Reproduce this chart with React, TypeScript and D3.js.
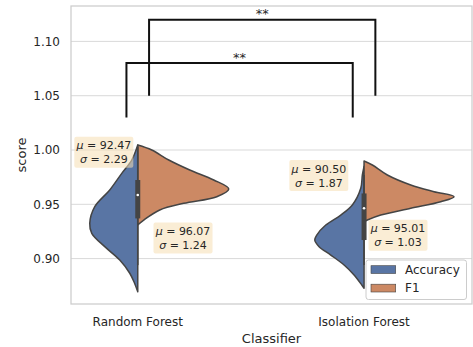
import React from 'react';
import * as d3 from 'd3';

// categories and hue levels
const classifiers = ['Random Forest', 'Isolation Forest'];
const metrics = ['Accuracy', 'F1'];
const yTicks = [0.9, 0.95, 1.0, 1.05, 1.1];

// violin outlines: score levels and half-width (relative density)
const rfAccScore = [1.0046, 0.9908, 0.9785, 0.9632, 0.9478, 0.9325, 0.9233, 0.911, 0.8987, 0.8865, 0.878, 0.8695];
const rfAccDens = [0, 0.06, 0.16, 0.28, 0.43, 0.48, 0.46, 0.33, 0.18, 0.08, 0.035, 0];
const rfF1Score = [1.0046, 1.0, 0.9908, 0.9816, 0.9724, 0.9641, 0.957, 0.9509, 0.9448, 0.9355, 0.931];
const rfF1Dens = [0, 0.14, 0.31, 0.52, 0.76, 0.91, 0.79, 0.46, 0.22, 0.06, 0];
const ifAccScore = [0.985, 0.977, 0.9647, 0.9494, 0.9401, 0.9309, 0.9217, 0.9171, 0.911, 0.9033, 0.8941, 0.8849, 0.8757, 0.8727];
const ifAccDens = [0, 0.017, 0.033, 0.117, 0.233, 0.383, 0.473, 0.493, 0.45, 0.333, 0.2, 0.1, 0.023, 0];
const ifF1Score = [0.9899, 0.9862, 0.977, 0.9678, 0.9616, 0.957, 0.9524, 0.9463, 0.9401, 0.9355, 0.934];
const ifF1Dens = [0, 0.083, 0.233, 0.467, 0.7, 0.9, 0.767, 0.467, 0.167, 0.033, 0];

// inner box: whisker low, q1, median, q3, whisker high
const boxLow = [0.894, 0.894];
const boxQ1 = [0.937, 0.9171];
const boxMed = [0.9586, 0.9463];
const boxQ3 = [0.9724, 0.96];
const boxHigh = [1.003, 0.977];

// mean / std annotations (classifier, metric)
const statMean = [92.47, 96.07, 90.5, 95.01];
const statStd = [2.29, 1.24, 1.87, 1.03];

// significance brackets
const bracketLow = [1.03, 1.05];
const bracketHigh = [1.08, 1.12];
const bracketText = ['**', '**'];

const W = 473;
const H = 347;
const colors = ['#5975a4', '#cc8964'];
const edge = '#444444';
const txt = '#262626';
const font = 'DejaVu Sans, sans-serif';

const App = () => {
  const x = d3.scaleLinear().domain([-0.295, 1.477]).range([71, 472]);
  const y = d3.scaleLinear().domain([0.8582, 1.1326]).range([304, 6]);
  const dens = d3.scaleLinear().domain([0, 1]).range([0, 100]);

  const violins = [
    { c: 0, side: -1, s: rfAccScore, d: rfAccDens },
    { c: 0, side: 1, s: rfF1Score, d: rfF1Dens },
    { c: 1, side: -1, s: ifAccScore, d: ifAccDens },
    { c: 1, side: 1, s: ifF1Score, d: ifF1Dens },
  ];

  // annotation placement (category offset, score of box centre)
  const annPos = [
    [-0.15, 0.998],
    [0.2, 0.919],
    [0.8, 0.9765],
    [1.15, 0.9215],
  ];

  return (
    <svg width={W} height={H} style={{ position: 'absolute', left: 0, top: 0, background: '#fff' }} fontFamily={font}>
      {/* grid */}
      {yTicks.map((t) => (
        <line key={t} x1={71} x2={472} y1={y(t)} y2={y(t)} stroke="#d9d9d9" strokeWidth={1} />
      ))}

      {/* violins */}
      {violins.map((v, i) => {
        const cx = x(v.c);
        const pts = v.s.map((s, k) => [s, v.d[k]] as [number, number]);
        const area = d3
          .area<[number, number]>()
          .y((p) => y(p[0]))
          .x0(cx)
          .x1((p) => cx + v.side * dens(p[1]))
          .curve(d3.curveCatmullRom);
        return (
          <path key={i} d={area(pts) || ''} fill={colors[v.side < 0 ? 0 : 1]} stroke={edge} strokeWidth={1.5} strokeLinejoin="round" />
        );
      })}

      {/* inner boxes */}
      {classifiers.map((c, i) => (
        <g key={c}>
          <line x1={x(i)} x2={x(i)} y1={y(boxLow[i])} y2={y(boxHigh[i])} stroke={edge} strokeWidth={1.6} />
          <line x1={x(i)} x2={x(i)} y1={y(boxQ1[i])} y2={y(boxQ3[i])} stroke={edge} strokeWidth={5} />
          <circle cx={x(i)} cy={y(boxMed[i])} r={1.3} fill="#fff" />
        </g>
      ))}

      {/* mean / std boxes */}
      {statMean.map((m, i) => {
        const cx = x(annPos[i][0]);
        const cy = y(annPos[i][1]);
        return (
          <g key={i}>
            <rect x={cx - 29.5} y={cy - 15.5} width={59} height={31} rx={2} fill="#f5deb3" fillOpacity={0.55} />
            <text x={cx} y={cy - 3} textAnchor="middle" fontSize={11} fill={txt}>
              <tspan fontStyle="italic">μ</tspan> = {m.toFixed(2)}
            </text>
            <text x={cx} y={cy + 11} textAnchor="middle" fontSize={11} fill={txt}>
              <tspan fontStyle="italic">σ</tspan> = {statStd[i].toFixed(2)}
            </text>
          </g>
        );
      })}

      {/* significance brackets */}
      {bracketLow.map((b, i) => {
        const off = i === 0 ? -0.05 : 0.05;
        const x1 = x(0 + off);
        const x2 = x(1 + off);
        const path = d3.path();
        path.moveTo(x1, y(b));
        path.lineTo(x1, y(bracketHigh[i]));
        path.lineTo(x2, y(bracketHigh[i]));
        path.lineTo(x2, y(b));
        return (
          <g key={i}>
            <path d={path.toString()} fill="none" stroke="#111" strokeWidth={2} />
            <text x={(x1 + x2) / 2} y={y(bracketHigh[i]) - 1.5} textAnchor="middle" fontSize={13} fill={txt}>
              {bracketText[i]}
            </text>
          </g>
        );
      })}

      {/* frame */}
      <rect x={71} y={6} width={401} height={298} fill="none" stroke="#cccccc" strokeWidth={1.25} />

      {/* y axis */}
      {yTicks.map((t) => (
        <text key={t} x={60} y={y(t)} dy="0.35em" textAnchor="end" fontSize={12} fill={txt}>
          {t.toFixed(2)}
        </text>
      ))}
      <text transform={`translate(21,155) rotate(-90)`} textAnchor="middle" dy="0.35em" fontSize={13} fill={txt}>
        score
      </text>

      {/* x axis */}
      {classifiers.map((c, i) => (
        <text key={c} x={x(i)} y={322} dy="0.35em" textAnchor="middle" fontSize={12} fill={txt}>
          {c}
        </text>
      ))}
      <text x={271.5} y={338} dy="0.35em" textAnchor="middle" fontSize={13} fill={txt}>
        Classifier
      </text>

      {/* legend */}
      <g>
        <rect x={366} y={260} width={100.5} height={39.5} rx={2.5} fill="#fff" fillOpacity={0.8} stroke="#cccccc" strokeWidth={1} />
        {metrics.map((m, i) => (
          <g key={m}>
            <rect x={371} y={265.7 + i * 18.5} width={24.7} height={7.8} fill={colors[i]} stroke={edge} strokeWidth={0.6} />
            <text x={405} y={269.6 + i * 18.5} dy="0.35em" fontSize={12} fill={txt}>
              {m}
            </text>
          </g>
        ))}
      </g>
    </svg>
  );
};

export default App;
